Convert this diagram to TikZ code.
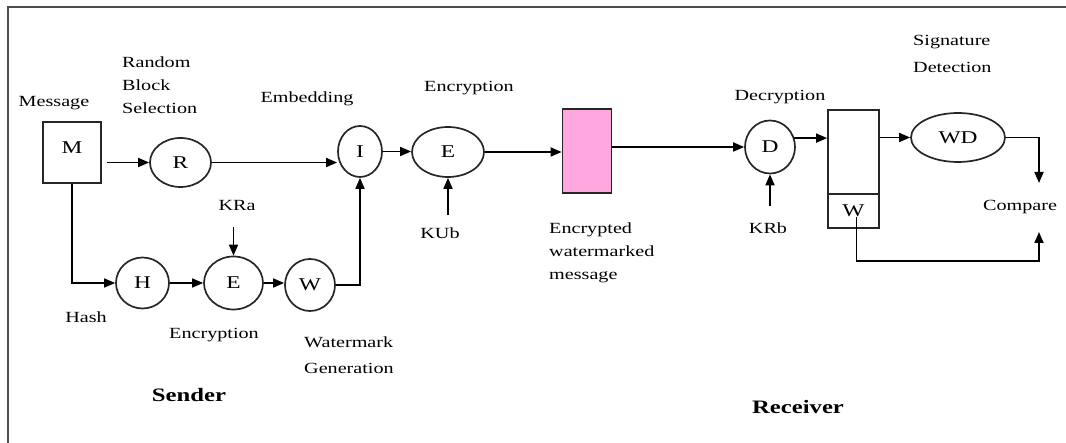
\documentclass[tikz,border=0pt]{standalone}
\usepackage{fontspec}
\setmainfont[FakeStretch=1.3]{Liberation Serif}
\usetikzlibrary{arrows.meta,shapes.geometric,positioning}
\definecolor{pinkbox}{RGB}{255,168,224}

\begin{document}
\begin{tikzpicture}[x=1pt,y=-1pt,
        txt/.style={font=\fontsize{15.5}{23}\selectfont, inner sep=1pt},
        sym/.style={draw=black!85, line width=1.7pt, ellipse, inner sep=0pt, font=\fontsize{18}{20}\selectfont},
        blk/.style={draw=black!85, line width=1.7pt, rectangle, inner sep=0pt, font=\fontsize{18}{20}\selectfont},
        arr/.style={line width=1.7pt, -{Triangle[length=11pt,width=9pt]}}]
        \useasboundingbox (0,0) rectangle (1066,443);
        \draw[line width=2.2pt, black!70] (1066,7) -- (8,7) -- (8,443);

        \node[blk, minimum width=58pt, minimum height=61pt,
            label={[font=\fontsize{18}{20}\selectfont, anchor=north, yshift=-17pt]north:M}] (msg) at (72,152.5) {};
        \node[sym, minimum width=61pt, minimum height=49pt] (r) at (180.5,162.5) {R};
        \node[sym, minimum width=44pt, minimum height=51pt] (i) at (360,151.5) {I};
        \node[sym, minimum width=72pt, minimum height=50pt] (e1) at (448,152) {E};
        \node[blk, fill=pinkbox, minimum width=49pt, minimum height=84pt] (pink) at (587,151) {};
        \node[sym, minimum width=50pt, minimum height=53pt] (d) at (770,147) {D};
        \node[blk, minimum width=51pt, minimum height=84pt] (dbox) at (853.5,152) {};
        \node[blk, minimum width=51pt, minimum height=34pt] (wbox) at (853.5,211) {W};
        \node[sym, minimum width=94pt, minimum height=49pt] (wd) at (958,137.5) {WD};
        \node[sym, minimum width=53pt, minimum height=51pt] (h) at (142.5,283) {H};
        \node[sym, minimum width=59pt, minimum height=53pt] (e2) at (233.5,283) {E};
        \node[sym, minimum width=50pt, minimum height=52pt] (w) at (310,285) {W};

        \node[txt] (msglbl) at (54,103) {Message};
        \node[txt, align=left, anchor=west] (rbslbl) at (121,85) {Random\\Block\\Selection};
        \node[txt] (emblbl) at (307,99) {Embedding};
        \node[txt] (enclbl) at (469,88) {Encryption};
        \node[txt] (kub) at (440,233) {KUb};
        \node[txt, align=left, anchor=west] (ewmlbl) at (548,253) {Encrypted\\watermarked\\message};
        \node[txt] (declbl) at (780,97) {Decryption};
        \node[txt] (krb) at (768,228) {KRb};
        \node[txt, align=left, anchor=west, font=\fontsize{15.5}{27}\selectfont] (sdlbl) at (912,54) {Signature\\Detection};
        \node[txt] (cmplbl) at (1020,207) {Compare};
        \node[txt] (kra) at (237,206) {KRa};
        \node[txt] (hashlbl) at (86,317) {Hash};
        \node[txt] (enc2lbl) at (214,335) {Encryption};
        \node[txt, align=left, anchor=west, font=\fontsize{15.5}{26}\selectfont] (wglbl) at (303,355) {Watermark\\Generation};
        \node[txt, font=\fontsize{19}{22}\selectfont\bfseries] (sndlbl) at (189,395) {Sender};
        \node[txt, font=\fontsize{19}{22}\selectfont\bfseries] (rcvlbl) at (798,407) {Receiver};

        \coordinate (cmpin) at (1039,183);
        \coordinate (cmpout) at (1039,232);

        \draw[arr, shorten <=5pt] (msg.east |- r.west) -- (r.west);
        \draw[arr] (r.east) -- (r.east -| i.west);
        \draw[arr] (i.east) -- (i.east -| e1.west);
        \draw[arr] (e1.east) -- (e1.east -| pink.west);
        \draw[arr, shorten <=11pt] (e1.south |- kub.north) -- (e1.south);
        \draw[arr] (pink.east |- d.west) -- (d.west);
        \draw[arr] (d.20) -- (d.20 -| dbox.west);
        \draw[arr, shorten <=15pt] (d.south |- krb.north) -- (d.south);
        \draw[arr] (dbox.east |- wd.west) -- (wd.west);
        \draw[arr] (wd.east) -| (cmpin);
        \draw[arr] ([xshift=3pt,yshift=-6pt]wbox.center) -- ++(0,44) -| (cmpout);
        \draw[arr] (msg.south) |- (h.west);
        \draw[arr] (h.east) -- (e2.west);
        \draw[arr, shorten <=15pt] (e2.north |- kra.south) -- (e2.north);
        \draw[arr] (e2.east) -- (e2.east -| w.west);
        \draw[arr] (w.east) -| (i.south);
\end{tikzpicture}
\end{document}
